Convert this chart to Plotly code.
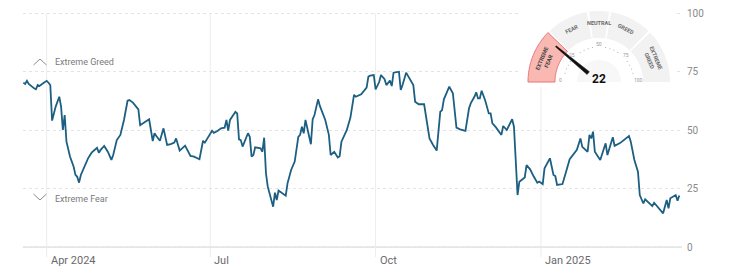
import math
import numpy as np
import plotly.graph_objects as go

# ---------------- data ----------------
dates = [
    "2024-03-19", "2024-03-20", "2024-03-21", "2024-03-22", "2024-03-25", "2024-03-26", "2024-03-27", "2024-03-28",
    "2024-03-30", "2024-04-01", "2024-04-02", "2024-04-03", "2024-04-04", "2024-04-05", "2024-04-06", "2024-04-08",
    "2024-04-09", "2024-04-10", "2024-04-11", "2024-04-12", "2024-04-14", "2024-04-16", "2024-04-17", "2024-04-18",
    "2024-04-19", "2024-04-20", "2024-04-23", "2024-04-24", "2024-04-26", "2024-04-29", "2024-04-30", "2024-05-01",
    "2024-05-03", "2024-05-05", "2024-05-07", "2024-05-08", "2024-05-10", "2024-05-12", "2024-05-14", "2024-05-16",
    "2024-05-17", "2024-05-19", "2024-05-22", "2024-05-23", "2024-05-24", "2024-05-28", "2024-05-30", "2024-05-31",
    "2024-06-01", "2024-06-03", "2024-06-05", "2024-06-07", "2024-06-09", "2024-06-11", "2024-06-12", "2024-06-14",
    "2024-06-17", "2024-06-20", "2024-06-22", "2024-06-25", "2024-06-27", "2024-06-28", "2024-07-02", "2024-07-03",
    "2024-07-05", "2024-07-07", "2024-07-09", "2024-07-10", "2024-07-11", "2024-07-12", "2024-07-15", "2024-07-16",
    "2024-07-17", "2024-07-18", "2024-07-19", "2024-07-22", "2024-07-23", "2024-07-24", "2024-07-25", "2024-07-26",
    "2024-07-29", "2024-07-30", "2024-07-31", "2024-08-01", "2024-08-02", "2024-08-05", "2024-08-06", "2024-08-07",
    "2024-08-08", "2024-08-12", "2024-08-13", "2024-08-15", "2024-08-17", "2024-08-18", "2024-08-19", "2024-08-20",
    "2024-08-21", "2024-08-22", "2024-08-23", "2024-08-26", "2024-08-27", "2024-08-28", "2024-08-30", "2024-08-31",
    "2024-09-03", "2024-09-05", "2024-09-06", "2024-09-08", "2024-09-10", "2024-09-11", "2024-09-12", "2024-09-15",
    "2024-09-17", "2024-09-19", "2024-09-20", "2024-09-23", "2024-09-25", "2024-09-26", "2024-09-27", "2024-09-28",
    "2024-09-30", "2024-10-01", "2024-10-03", "2024-10-04", "2024-10-06", "2024-10-07", "2024-10-09", "2024-10-10",
    "2024-10-11", "2024-10-14", "2024-10-15", "2024-10-16", "2024-10-18", "2024-10-20", "2024-10-22", "2024-10-23",
    "2024-10-25", "2024-10-28", "2024-10-29", "2024-10-31", "2024-11-02", "2024-11-04", "2024-11-06", "2024-11-07",
    "2024-11-08", "2024-11-11", "2024-11-13", "2024-11-15", "2024-11-17", "2024-11-20", "2024-11-22", "2024-11-23",
    "2024-11-25", "2024-11-26", "2024-11-27", "2024-11-28", "2024-11-29", "2024-12-01", "2024-12-03", "2024-12-04",
    "2024-12-05", "2024-12-07", "2024-12-10", "2024-12-11", "2024-12-13", "2024-12-16", "2024-12-17", "2024-12-18",
    "2024-12-19", "2024-12-20", "2024-12-22", "2024-12-23", "2024-12-24", "2024-12-26", "2024-12-28", "2024-12-30",
    "2024-12-31", "2025-01-02", "2025-01-03", "2025-01-06", "2025-01-08", "2025-01-09", "2025-01-10", "2025-01-13",
    "2025-01-15", "2025-01-17", "2025-01-21", "2025-01-23", "2025-01-24", "2025-01-27", "2025-01-28", "2025-01-29",
    "2025-01-30", "2025-01-31", "2025-02-03", "2025-02-06", "2025-02-07", "2025-02-10", "2025-02-11", "2025-02-14",
    "2025-02-19", "2025-02-20", "2025-02-22", "2025-02-24", "2025-02-25", "2025-02-27", "2025-02-28", "2025-03-04",
    "2025-03-05", "2025-03-07", "2025-03-10", "2025-03-12", "2025-03-13", "2025-03-14", "2025-03-17", "2025-03-18",
    "2025-03-19",
]
values = [
    70.2, 69.7, 71.0, 69.7, 67.8, 67.4, 69.2, 68.8,
    70.0, 71.0, 70.2, 69.2, 54.0, 57.1, 60.0, 64.2,
    60.0, 50.0, 56.4, 45.0, 38.6, 34.3, 30.8, 30.0,
    27.5, 30.8, 36.5, 37.9, 40.3, 42.4, 40.3, 41.5,
    43.2, 40.7, 37.2, 39.3, 45.7, 47.9, 54.3, 62.5,
    62.8, 61.7, 58.8, 52.1, 52.6, 54.6, 45.3, 48.6,
    47.4, 45.4, 50.7, 43.6, 44.0, 44.6, 46.4, 41.2,
    43.3, 38.9, 38.6, 37.5, 45.4, 44.6, 49.7, 48.8,
    49.6, 50.7, 51.0, 54.3, 49.7, 54.3, 57.8, 57.1,
    46.0, 45.7, 42.9, 48.6, 47.1, 38.6, 39.3, 42.6,
    42.2, 40.7, 46.7, 31.5, 25.8, 17.2, 23.2, 20.1,
    24.1, 21.9, 27.2, 32.9, 36.5, 42.9, 47.1, 47.9,
    51.4, 48.6, 54.3, 43.9, 54.6, 56.4, 63.1, 60.3,
    54.3, 47.9, 39.3, 40.7, 38.3, 38.8, 45.0, 50.0,
    55.3, 65.0, 64.2, 65.3, 67.1, 68.1, 72.8, 73.2,
    73.5, 67.4, 70.5, 73.5, 71.7, 69.2, 71.1, 68.8,
    74.5, 74.9, 67.1, 69.2, 74.5, 71.7, 69.2, 62.1,
    61.0, 61.0, 55.7, 46.4, 43.6, 41.2, 57.8, 58.5,
    63.1, 68.5, 65.7, 51.0, 50.3, 49.6, 59.3, 61.5,
    64.2, 66.1, 63.5, 63.5, 66.8, 62.6, 57.1, 57.1,
    52.8, 51.1, 47.9, 51.7, 50.0, 54.6, 51.4, 37.2,
    22.2, 27.9, 28.9, 29.7, 35.0, 33.2, 30.1, 27.5,
    28.0, 26.9, 33.6, 37.9, 30.8, 30.3, 26.5, 26.9,
    32.2, 37.5, 41.5, 46.4, 42.8, 40.7, 47.9, 46.4,
    49.3, 40.7, 37.2, 44.3, 39.3, 46.9, 43.2, 44.4,
    47.4, 45.0, 37.2, 32.2, 22.2, 18.6, 20.4, 17.5,
    18.9, 17.0, 14.4, 20.1, 16.5, 20.8, 22.2, 19.8,
    22.0,
]

y_ticks = [0, 25, 50, 75, 100]
x_tick_dates = ["2024-04-01", "2024-07-01", "2024-10-01", "2025-01-01"]
x_tick_labels = ["Apr 2024", "Jul", "Oct", "Jan 2025"]

current_value = 22
zone_edges = [0, 25, 45, 55, 75, 100]
zone_labels = ["EXTREME<br>FEAR", "FEAR", "NEUTRAL", "GREED", "EXTREME<br>GREED"]
scale_labels = [0, 25, 50, 75, 100]

# ---------------- layout helpers ----------------
W, H = 740, 273
ML, MR = 23, 58
PW = W - ML - MR
Y_RANGE = [-26 / 2.34, 100 + 13 / 2.34]
X_RANGE = ["2024-03-18 19:30", "2025-03-20 12:00"]
FONT = "Roboto"


def P(px, py):
    return ((px - ML) / PW, 1 - py / H)


def path_from(points, close=True):
    s = "M " + " L ".join(f"{P(x, y)[0]:.5f},{P(x, y)[1]:.5f}" for x, y in points)
    return s + (" Z" if close else "")


fig = go.Figure()
fig.add_trace(go.Scatter(x=dates, y=values, mode="lines",
                         line=dict(color="#1c5f82", width=1.8),
                         hoverinfo="skip", showlegend=False))

shapes = []
annotations = []

# vertical gridlines
for d in x_tick_dates:
    shapes.append(dict(type="line", xref="x", yref="y", x0=d, x1=d, y0=-4.3, y1=100,
                       line=dict(color="#ececec", width=1), layer="below"))
# baseline
shapes.append(dict(type="line", xref="paper", yref="y", x0=0, x1=1, y0=0, y1=0,
                   line=dict(color="#d2d2d2", width=1), layer="below"))

# x tick labels
for d, t in zip(x_tick_dates, x_tick_labels):
    annotations.append(dict(x=d, y=-5.56, xref="x", yref="y", text=t, showarrow=False,
                            xanchor="left", yanchor="middle", xshift=2,
                            font=dict(family=FONT, size=11, color="#6a6a6a")))

# Extreme greed / fear markers
chev_col = "#8c8c8c"
shapes.append(dict(type="path", xref="paper", yref="paper",
                   path=path_from([(33.5, 65), (40, 59), (46.5, 65)], close=False),
                   line=dict(color=chev_col, width=1)))
shapes.append(dict(type="path", xref="paper", yref="paper",
                   path=path_from([(33.5, 194), (40, 200), (46.5, 194)], close=False),
                   line=dict(color=chev_col, width=1)))
for txt, py in [("Extreme Greed", 62.5), ("Extreme Fear", 198.5)]:
    x, y = P(53, py)
    annotations.append(dict(x=x, y=y, xref="paper", yref="paper", text=txt, showarrow=False,
                            xanchor="left", yanchor="middle",
                            font=dict(family=FONT, size=9, color="#7a7a7a")))

# ---------------- gauge ----------------
CX, CY = 599, 82
R_OUT, R_IN = 71, 44


def pt(v, r):
    th = math.pi * (1 - v / 100)
    return CX + r * math.cos(th), CY - r * math.sin(th)


def band(v0, v1, r_in, r_out, n=40):
    vs = np.linspace(v0, v1, n)
    return [pt(v, r_out) for v in vs] + [pt(v, r_in) for v in vs[::-1]]


# white backdrop hiding gridlines
x0, y0 = P(520, 0)
x1, y1 = P(677, 87)
shapes.append(dict(type="rect", xref="paper", yref="paper", x0=x0, y0=y1, x1=x1, y1=y0,
                   fillcolor="white", line=dict(width=0), layer="above"))

active = max(i for i in range(len(zone_labels)) if zone_edges[i] <= current_value)
gap = 0.5
for i in range(len(zone_labels)):
    a = zone_edges[i] + (gap if i > 0 else 0)
    b = zone_edges[i + 1] - (gap if i < len(zone_labels) - 1 else 0)
    if i == active:
        shapes.append(dict(type="path", xref="paper", yref="paper", path=path_from(band(a, b, R_IN, R_OUT)),
                           fillcolor="#f9b8b2", line=dict(color="#e7757a", width=1), layer="above"))
    else:
        shapes.append(dict(type="path", xref="paper", yref="paper", path=path_from(band(a, b, R_IN, R_OUT)),
                           fillcolor="#f2f2f2", line=dict(width=0), layer="above"))
    mid = (zone_edges[i] + zone_edges[i + 1]) / 2
    lx, ly = pt(mid, 59 if "<br>" not in zone_labels[i] else 58)
    px_, py_ = P(lx, ly)
    th_deg = 180 * (1 - mid / 100)
    annotations.append(dict(x=px_, y=py_, xref="paper", yref="paper", text=f"<b>{zone_labels[i]}</b>",
                            showarrow=False, textangle=90 - th_deg, xanchor="center", yanchor="middle",
                            font=dict(family=FONT, size=5.5, color="#444" if i == active else "#6a6a6a")))

# inner light half disk
shapes.append(dict(type="path", xref="paper", yref="paper",
                   path=path_from([pt(v, 22) for v in np.linspace(0, 100, 40)] + [(CX, CY)]),
                   fillcolor="#f7f7f7", line=dict(width=0), layer="above"))

# dotted scale
for v in np.arange(0, 100.1, 4):
    if min(abs(v - s) for s in scale_labels) < 5:
        continue
    dx, dy = pt(v, 35)
    xa, ya = P(dx - 0.5, dy - 0.5)
    xb, yb = P(dx + 0.5, dy + 0.5)
    shapes.append(dict(type="rect", xref="paper", yref="paper", x0=xa, x1=xb, y0=yb, y1=ya,
                       fillcolor="#b5b5b5", line=dict(width=0), layer="above"))
for s in scale_labels:
    lx, ly = pt(s, 38 if s not in (0, 100) else 39)
    px_, py_ = P(lx, ly - (0 if s not in (0, 100) else 2))
    annotations.append(dict(x=px_, y=py_, xref="paper", yref="paper", text=str(s), showarrow=False,
                            xanchor="center", yanchor="middle",
                            font=dict(family=FONT, size=5, color="#9a9a9a")))

# needle
th = math.pi * (1 - current_value / 100)
ux, uy = math.cos(th), -math.sin(th)
nx, ny = -uy, ux
r0, r1, w0, w1 = 14, 56, 1.8, 0.6
needle = [
    (CX + r0 * ux + w0 * nx, CY + r0 * uy + w0 * ny),
    (CX + r1 * ux + w1 * nx, CY + r1 * uy + w1 * ny),
    (CX + r1 * ux - w1 * nx, CY + r1 * uy - w1 * ny),
    (CX + r0 * ux - w0 * nx, CY + r0 * uy - w0 * ny),
]
shapes.append(dict(type="path", xref="paper", yref="paper", path=path_from(needle),
                   fillcolor="#111", line=dict(color="#111", width=0.5), layer="above"))

vx, vy = P(598.5, 78.5)
annotations.append(dict(x=vx, y=vy, xref="paper", yref="paper", text=f"<b>{current_value}</b>",
                        showarrow=False, xanchor="center", yanchor="middle",
                        font=dict(family=FONT, size=12, color="#111")))

fig.update_layout(
    width=W, height=H,
    margin=dict(l=ML, r=MR, t=0, b=0),
    paper_bgcolor="white", plot_bgcolor="white",
    showlegend=False,
    shapes=shapes, annotations=annotations,
    xaxis=dict(type="date", range=X_RANGE, showgrid=False, zeroline=False,
               showticklabels=False, showline=False, fixedrange=True),
    yaxis=dict(range=Y_RANGE, tickvals=y_ticks, side="right", showgrid=True,
               gridcolor="#e4e4e4", griddash="3px,3px", gridwidth=1, zeroline=False,
               showline=False, ticks="", ticklabelstandoff=4,
               tickfont=dict(family=FONT, size=10, color="#8a8a8a"), fixedrange=True),
)

fig.write_html("out.html")
